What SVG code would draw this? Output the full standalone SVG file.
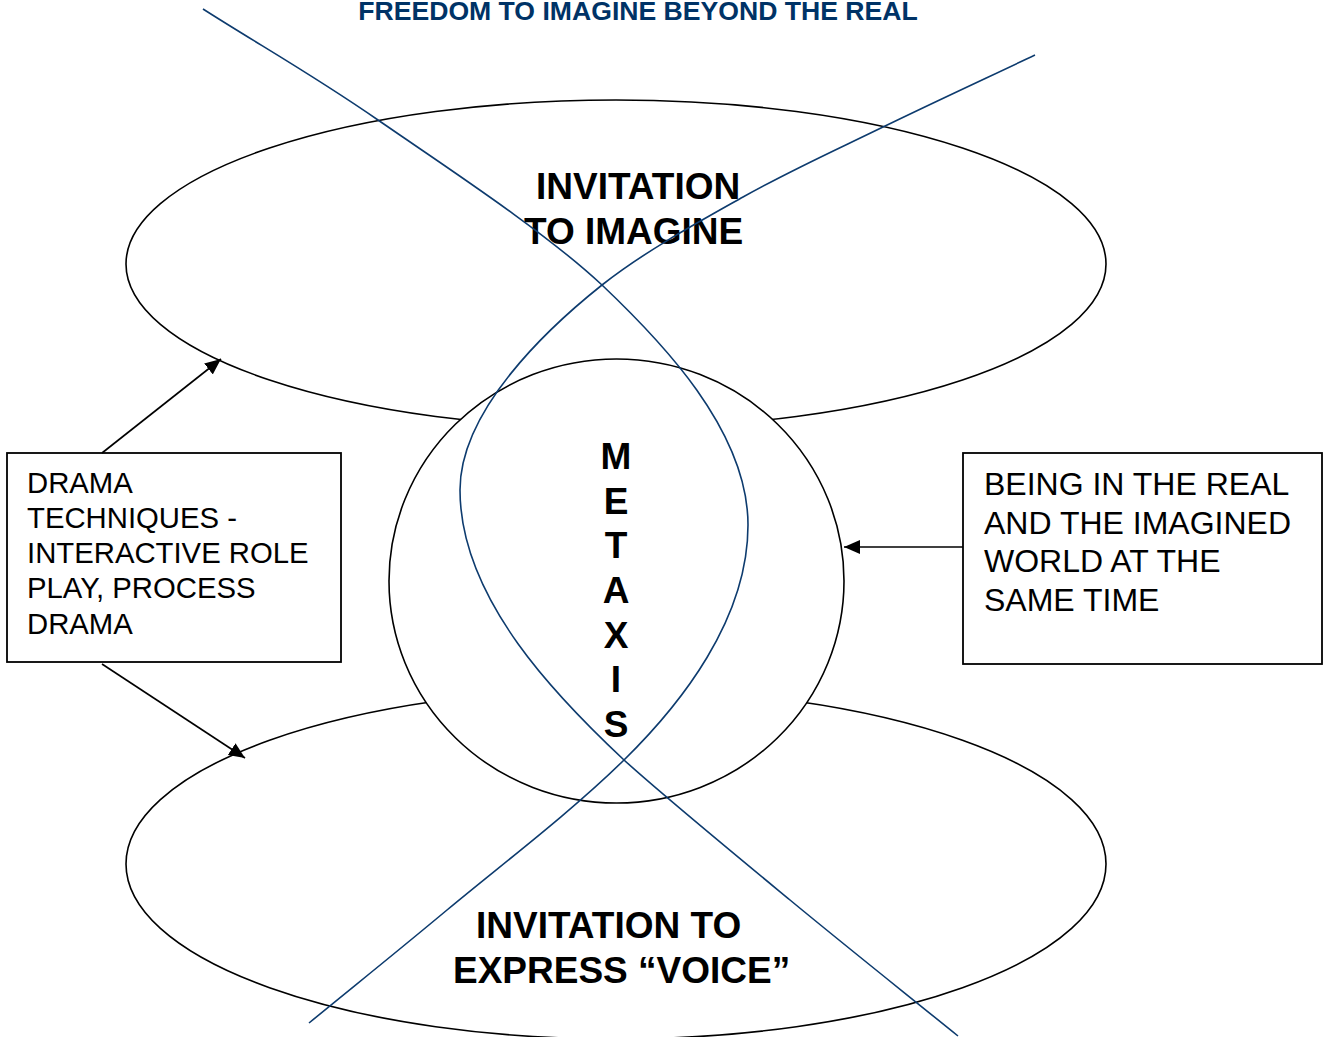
<svg xmlns="http://www.w3.org/2000/svg" width="1329" height="1037" viewBox="0 0 1329 1037">
<style>
.shape{fill:#fff;stroke:#000;stroke-width:1.6}
.box{fill:#fff;stroke:#000;stroke-width:1.8}
.big{font-family:"Liberation Sans",Arial,sans-serif;font-weight:bold;font-size:37px;fill:#000}
.lt{font-family:"Liberation Sans",Arial,sans-serif;font-size:29.3px;fill:#000}
.rt{font-family:"Liberation Sans",Arial,sans-serif;font-size:32px;fill:#000}
.title{font-family:"Liberation Sans",Arial,sans-serif;font-weight:bold;font-size:26.6px;fill:#003366}
.conn{fill:none;stroke:#000;stroke-width:1.6}
.blue{fill:none;stroke:#0d3b6e;stroke-width:1.6}
</style>
<defs>
<marker id="ah" markerUnits="userSpaceOnUse" markerWidth="18" markerHeight="14" refX="16" refY="7" orient="auto">
<path d="M0,0 L16,7 L0,14 Z" fill="#000"/>
</marker>
</defs>
<rect width="1329" height="1037" fill="#fff"/>
<g id="title"><text class="title" x="638" y="20" text-anchor="middle">FREEDOM TO IMAGINE BEYOND THE REAL</text></g>
<g id="imagine">
<ellipse class="shape" cx="616" cy="264" rx="490" ry="164"/>
</g>
<g id="voice">
<ellipse class="shape" cx="616" cy="864" rx="490" ry="175"/>
</g>
<g id="metaxis">
<ellipse class="shape" cx="616.5" cy="581" rx="227.5" ry="222"/>
<g class="big" text-anchor="middle">
<text x="616" y="469">M</text>
<text x="616" y="514">E</text>
<text x="616" y="558">T</text>
<text x="616" y="603">A</text>
<text x="616" y="648">X</text>
<text x="616" y="692">I</text>
<text x="616" y="737">S</text>
</g>
</g>
<g id="imagine-label">
<text class="big" x="536" y="199">INVITATION</text>
<text class="big" x="524" y="244">TO IMAGINE</text>
</g>
<g id="voice-label">
<text class="big" x="476" y="938">INVITATION TO</text>
<text class="big" x="453" y="983">EXPRESS “VOICE”</text>
</g>
<g id="drama">
<rect class="box" x="7" y="453" width="334" height="209"/>
<text class="lt" x="27" y="493">DRAMA</text>
<text class="lt" x="27" y="528">TECHNIQUES -</text>
<text class="lt" x="27" y="563">INTERACTIVE ROLE</text>
<text class="lt" x="27" y="598">PLAY, PROCESS</text>
<text class="lt" x="27" y="634">DRAMA</text>
</g>
<g id="being">
<rect class="box" x="963" y="453" width="359" height="211"/>
<text class="rt" x="984" y="495">BEING IN THE REAL</text>
<text class="rt" x="984" y="534">AND THE IMAGINED</text>
<text class="rt" x="984" y="572">WORLD AT THE</text>
<text class="rt" x="984" y="611">SAME TIME</text>
</g>
<g id="connectors">
<line class="conn" x1="102" y1="453" x2="221" y2="359" marker-end="url(#ah)"/>
<line class="conn" x1="102" y1="664" x2="245" y2="758" marker-end="url(#ah)"/>
<line class="conn" x1="963" y1="547" x2="844" y2="547" marker-end="url(#ah)"/>
<path class="blue" d="M203,9 C261,46 311.5,74 378,120 C444.5,166 543,230 602,285 C660,340 748,430 748,525 C748,620 680,705 624,760 C570,813 499.5,866.2 447,910 C394.5,953.8 355,985.3 309,1023"/>
<path class="blue" d="M1035,55 C984.3,79 931.7,103.3 883,127 C834.3,150.7 789.8,170.7 743,197 C696.2,223.3 644.2,251.7 602,285 C548,328 460,410 460,490 C460,600 560,700 624,760 C664,796.2 734.3,854 790,900 C845.7,946 902,990.7 958,1036"/>
</g>
</svg>
